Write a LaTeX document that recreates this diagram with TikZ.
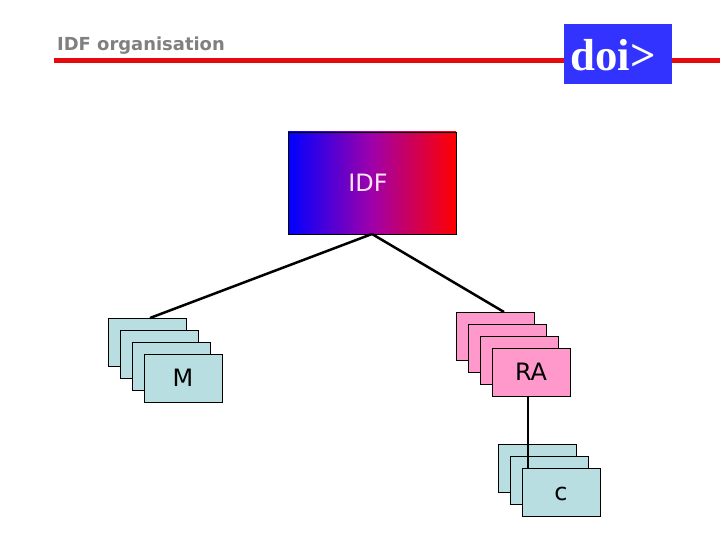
\documentclass[tikz,border=0pt]{standalone}
\usepackage{fontspec}
\setmainfont{DejaVu Sans}
\newfontfamily\doifont{Liberation Serif}
\usepackage{tikz}
\usetikzlibrary{positioning}
\definecolor{stackblue}{RGB}{184,222,226}
\definecolor{stackpink}{RGB}{255,153,204}
\definecolor{logoblue}{RGB}{51,51,255}
\definecolor{titlegrey}{RGB}{128,128,128}
\definecolor{rulered}{RGB}{230,10,15}
\definecolor{idfmid}{RGB}{160,0,170}
\tikzset{line join=bevel, semithick,
  card/.style={draw=black, line width=0.75bp, minimum width=78bp, minimum height=48bp, inner sep=0pt, outer sep=0pt},
  mcard/.style={card, fill=stackblue},
  racard/.style={card, fill=stackpink},
  link/.style={draw=black, line width=2.5bp},
  cardtext/.style={font=\fontsize{24}{26}\selectfont, text=black, text height=17bp, text depth=0pt}}
\begin{document}
\begin{tikzpicture}
%%
\useasboundingbox (0bp,0bp) rectangle (720bp,540bp);
\coordinate (rule_l) at (54bp,479.7bp);
\coordinate (rule_r) at (720bp,479.7bp);
\draw [draw=rulered, line width=5bp] (rule_l) -- (rule_r);
\node (title) at (141bp,494.5bp) [font=\fontsize{18}{20}\bfseries\selectfont, text=titlegrey] {IDF organisation};
\node (logo) at (618bp,486bp) [fill=logoblue, minimum width=108bp, minimum height=60bp, inner sep=0pt] {};
\node (logo_text) at (613bp,485bp) [inner sep=0pt, text=white, font=\doifont\bfseries\fontsize{45}{48}\selectfont] {doi>};
%
\node (idf) at (372bp,357bp) [draw=black, line width=0.75bp, left color=blue, right color=red, middle color=idfmid, minimum width=168bp, minimum height=102bp, inner sep=0pt, outer sep=0pt] {};
\node (idf_text) at (368bp,357bp) [cardtext, text=white!90!magenta] {IDF};
%
\node (m_1) at (147bp,198bp) [mcard] {};
\node (m_2) at (159bp,186bp) [mcard] {};
\node (m_3) at (171bp,174bp) [mcard] {};
\node (m_4) at (183bp,162bp) [mcard, cardtext] {M};
%
\node (ra_1) at (495bp,204bp) [racard] {};
\node (ra_2) at (507bp,192bp) [racard] {};
\node (ra_3) at (519bp,180bp) [racard] {};
\node (ra_4) at (531bp,168bp) [racard, cardtext] {RA};
%
\draw [link] (idf.south) -- ([xshift=3bp]m_1.north);
\draw [link] (idf.south) -- ([xshift=9bp]ra_1.north);
%
\node (c_1) at (537bp,72bp) [mcard] {};
\node (c_2) at (549bp,60bp) [mcard] {};
\coordinate (c_top) at (561bp,48bp);
\draw [link] ([xshift=-3bp]ra_4.south) -- ([xshift=-3bp,yshift=24bp]ra_4.south |- c_top);
\node (c_3) at (c_top) [mcard, cardtext] {c};
%
\end{tikzpicture}
\end{document}
